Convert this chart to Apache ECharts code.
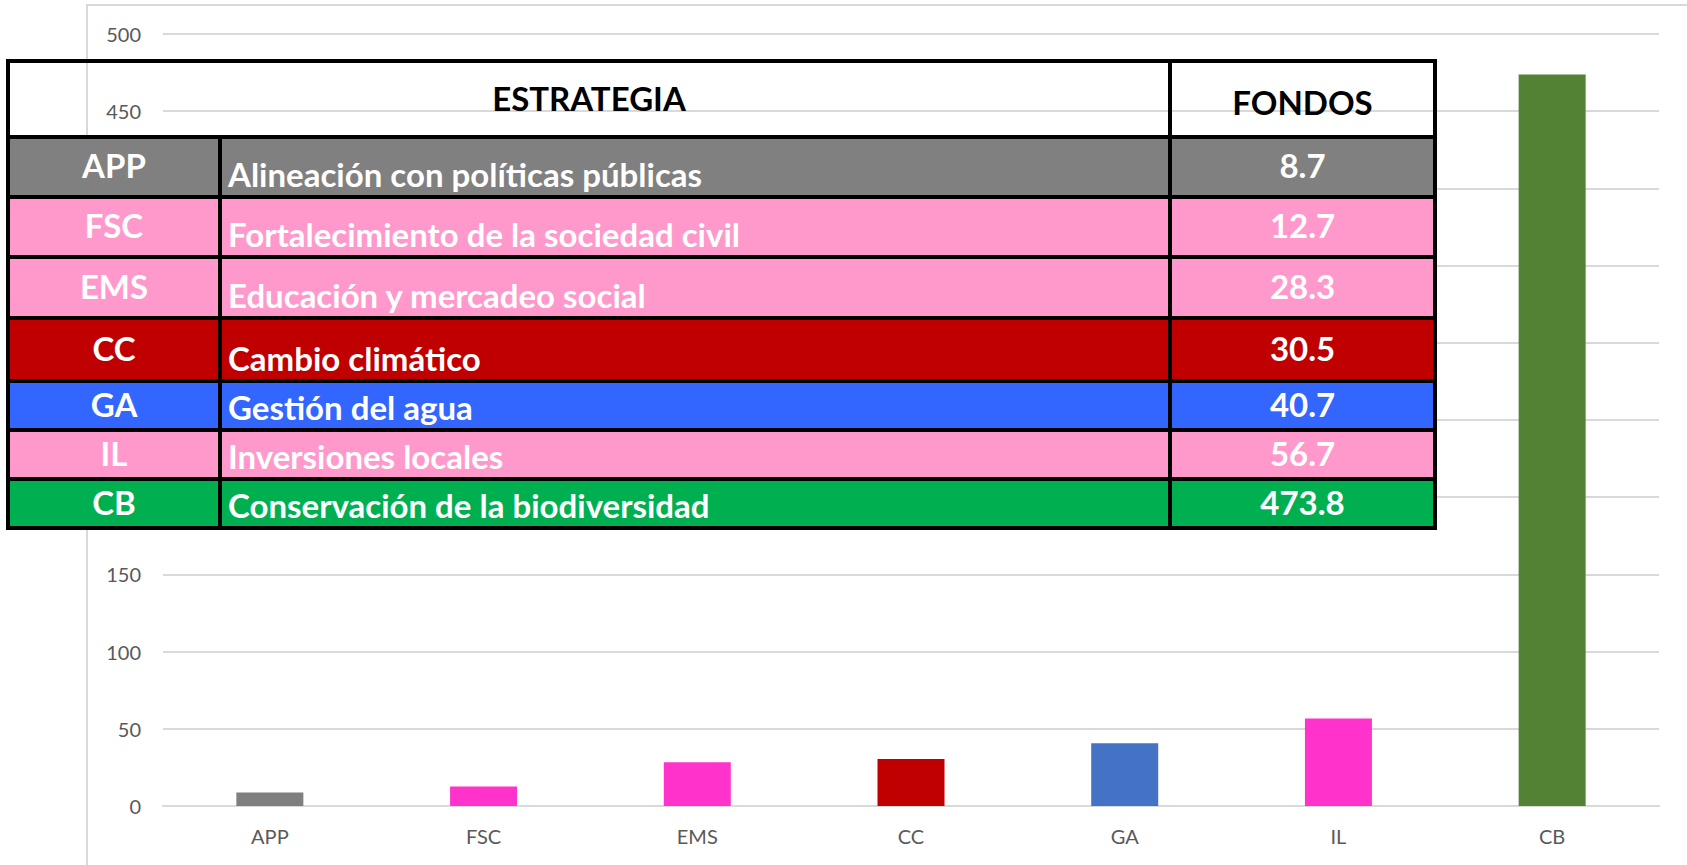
<!DOCTYPE html>
<html>
<head>
<meta charset="utf-8">
<script src="https://cdn.jsdelivr.net/npm/echarts@6/dist/echarts.min.js"></script>
<style>
  html, body { margin: 0; padding: 0; background: #fff; }
  #chart { width: 1687px; height: 865px; }
</style>
</head>
<body>
<div id="chart"></div>
<script>
// datos
const categories = ['APP', 'FSC', 'EMS', 'CC', 'GA', 'IL', 'CB']
const strategies = [
  'Alineación con políticas públicas',
  'Fortalecimiento de la sociedad civil',
  'Educación y mercadeo social',
  'Cambio climático',
  'Gestión del agua',
  'Inversiones locales',
  'Conservación de la biodiversidad'
]
const fondos = [8.7, 12.7, 28.3, 30.5, 40.7, 56.7, 473.8]
const barColors = ['#7F7F7F', '#FF33CC', '#FF33CC', '#C00000', '#4472C4', '#FF33CC', '#548235']
const rowColors = ['#808080', '#FF99CC', '#FF99CC', '#C00000', '#3366FF', '#FF99CC', '#00B050']
const yTicks = [0, 50, 100, 150, 200, 250, 300, 350, 400, 450, 500]
// tick labels that sit behind the table
const coveredTicks = [200, 250, 300, 350, 400]

// layout of the overlay table (pixels)
const colX = [8, 220, 1170, 1435]
const rowY = [61, 137, 197, 257, 318, 381, 430, 479, 528]

const FONT = 'Lato, "Open Sans", sans-serif'

const chart = echarts.init(document.getElementById('chart'), null, { renderer: 'svg' })

const buildTable = () => {
  const els = []
  const cell = (x0, x1, y0, y1, fill) => ({
    type: 'rect',
    z: 100,
    silent: true,
    shape: { x: x0, y: y0, width: x1 - x0, height: y1 - y0 },
    style: { fill: fill, stroke: '#000', lineWidth: 4 }
  })
  const text = (str, x, y, align, vAlign, color) => ({
    type: 'text',
    z: 101,
    silent: true,
    x: x,
    y: y,
    style: {
      text: str,
      fill: color,
      font: 'bold 33px ' + FONT,
      align: align,
      textAlign: align,
      verticalAlign: vAlign,
      textVerticalAlign: vAlign
    }
  })

  // header (transparent)
  els.push(cell(colX[0], colX[2], rowY[0], rowY[1], 'transparent'))
  els.push(cell(colX[2], colX[3], rowY[0], rowY[1], 'transparent'))
  els.push(text('ESTRATEGIA', (colX[0] + colX[2]) / 2, (rowY[0] + rowY[1]) / 2 - 1, 'center', 'middle', '#000'))
  els.push(text('FONDOS', (colX[2] + colX[3]) / 2, (rowY[0] + rowY[1]) / 2 + 3, 'center', 'middle', '#000'))

  categories.forEach((c, i) => {
    const y0 = rowY[i + 1]
    const y1 = rowY[i + 2]
    const mid = (y0 + y1) / 2 - 2
    els.push(cell(colX[0], colX[1], y0, y1, rowColors[i]))
    els.push(cell(colX[1], colX[2], y0, y1, rowColors[i]))
    els.push(cell(colX[2], colX[3], y0, y1, rowColors[i]))
    els.push(text(c, (colX[0] + colX[1]) / 2, mid, 'center', 'middle', '#fff'))
    els.push(text(strategies[i], colX[1] + 8, y1 - 7, 'left', 'bottom', '#fff'))
    els.push(text(fondos[i].toFixed(1), (colX[2] + colX[3]) / 2, mid, 'center', 'middle', '#fff'))
  })
  return els
}

const option = {
  animation: false,
  backgroundColor: '#fff',
  textStyle: { fontFamily: FONT },
  grid: {
    left: 163,
    right: 28,
    top: 34,
    bottom: 59
  },
  xAxis: {
    type: 'category',
    data: categories,
    axisLine: { lineStyle: { color: '#D9D9D9', width: 2 } },
    axisTick: { show: false },
    axisLabel: { color: '#595959', fontSize: 20, margin: 20, fontFamily: FONT }
  },
  yAxis: {
    type: 'value',
    min: yTicks[0],
    max: yTicks[yTicks.length - 1],
    interval: 50,
    axisLine: { show: false },
    axisTick: { show: false },
    splitLine: { lineStyle: { color: '#D9D9D9', width: 2 } },
    axisLabel: {
      color: '#595959',
      fontSize: 20,
      margin: 22,
      fontFamily: FONT,
      formatter: (v) => coveredTicks.includes(v) ? '' : String(v)
    }
  },
  series: [{
    type: 'bar',
    barWidth: 67,
    data: fondos.map((v, i) => ({ value: v, itemStyle: { color: barColors[i] } }))
  }],
  graphic: [
    {
      type: 'rect',
      z: -1,
      silent: true,
      shape: { x: 87, y: 5, width: 1700, height: 1000 },
      style: { fill: 'transparent', stroke: '#D9D9D9', lineWidth: 2 }
    },
    ...buildTable()
  ]
}

chart.setOption(option)
</script>
</body>
</html>
